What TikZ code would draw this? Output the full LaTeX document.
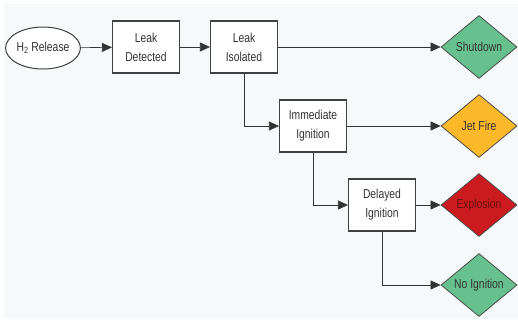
\documentclass[tikz,border=0pt]{standalone}
\usepackage{fontspec}
\setmainfont{Liberation Sans}[FakeStretch=0.8]
\usetikzlibrary{shapes.geometric,arrows.meta}

\definecolor{panelbg}{HTML}{F5F9F9}
\definecolor{safegreen}{HTML}{66C18E}
\definecolor{fireamber}{HTML}{FBB829}
\definecolor{blastred}{HTML}{CC1B1F}
\definecolor{blasttext}{HTML}{6A1212}

\tikzset{
  stepbox/.style={draw=black!75, line width=1.1pt, fill=white, minimum width=67bp,
    minimum height=52bp, align=center, inner sep=1pt, text=black!80},
  outcome/.style={diamond, draw=black!70, line width=0.8pt, minimum width=76bp,
    minimum height=63bp, inner sep=0pt, aspect=1.2, text=black!80},
  flow/.style={-{Triangle[length=10bp,width=9bp]}, draw=black!80, line width=0.6pt}
}

\begin{document}
\begin{tikzpicture}[x=1bp, y=-1bp, font=\fontsize{13}{19}\selectfont]
  \useasboundingbox (0,0) rectangle (518,320);
  \fill[white] (0,0) rectangle (518,320);
  \fill[panelbg] (4,4) rectangle (518,319);

  % Release and response steps
  \node[ellipse, draw=black!75, line width=1pt, fill=white, minimum width=74bp,
    minimum height=42bp, inner sep=0pt, text=black!80] (rel) at (43,48) {H\textsubscript{2} Release};
  \node[stepbox] (det) at (146,47) {Leak\\Detected};
  \node[stepbox] (iso) at (244,47) {Leak\\Isolated};
  \node[stepbox] (imm) at (313,126) {Immediate\\Ignition};
  \node[stepbox] (del) at (382,205) {Delayed\\Ignition};

  % Outcomes
  \node[outcome, fill=safegreen] (shut) at (479,47) {Shutdown};
  \node[outcome, fill=fireamber] (jet) at (479,126) {Jet Fire};
  \node[outcome, fill=blastred, text=blasttext] (expl) at (479,205) {Explosion};
  \node[outcome, fill=safegreen] (noig) at (479,285) {No Ignition};

  % Connectors
  \draw[flow] (rel) -- (det);
  \draw[flow] (det) -- (iso);
  \draw[flow] (iso) -- (shut);
  \draw[flow] (iso.south) |- (imm);
  \draw[flow] (imm) -- (jet);
  \draw[flow] (imm.south) |- (del);
  \draw[flow] (del) -- (expl);
  \draw[flow] (del.south) |- (noig);
\end{tikzpicture}
\end{document}
